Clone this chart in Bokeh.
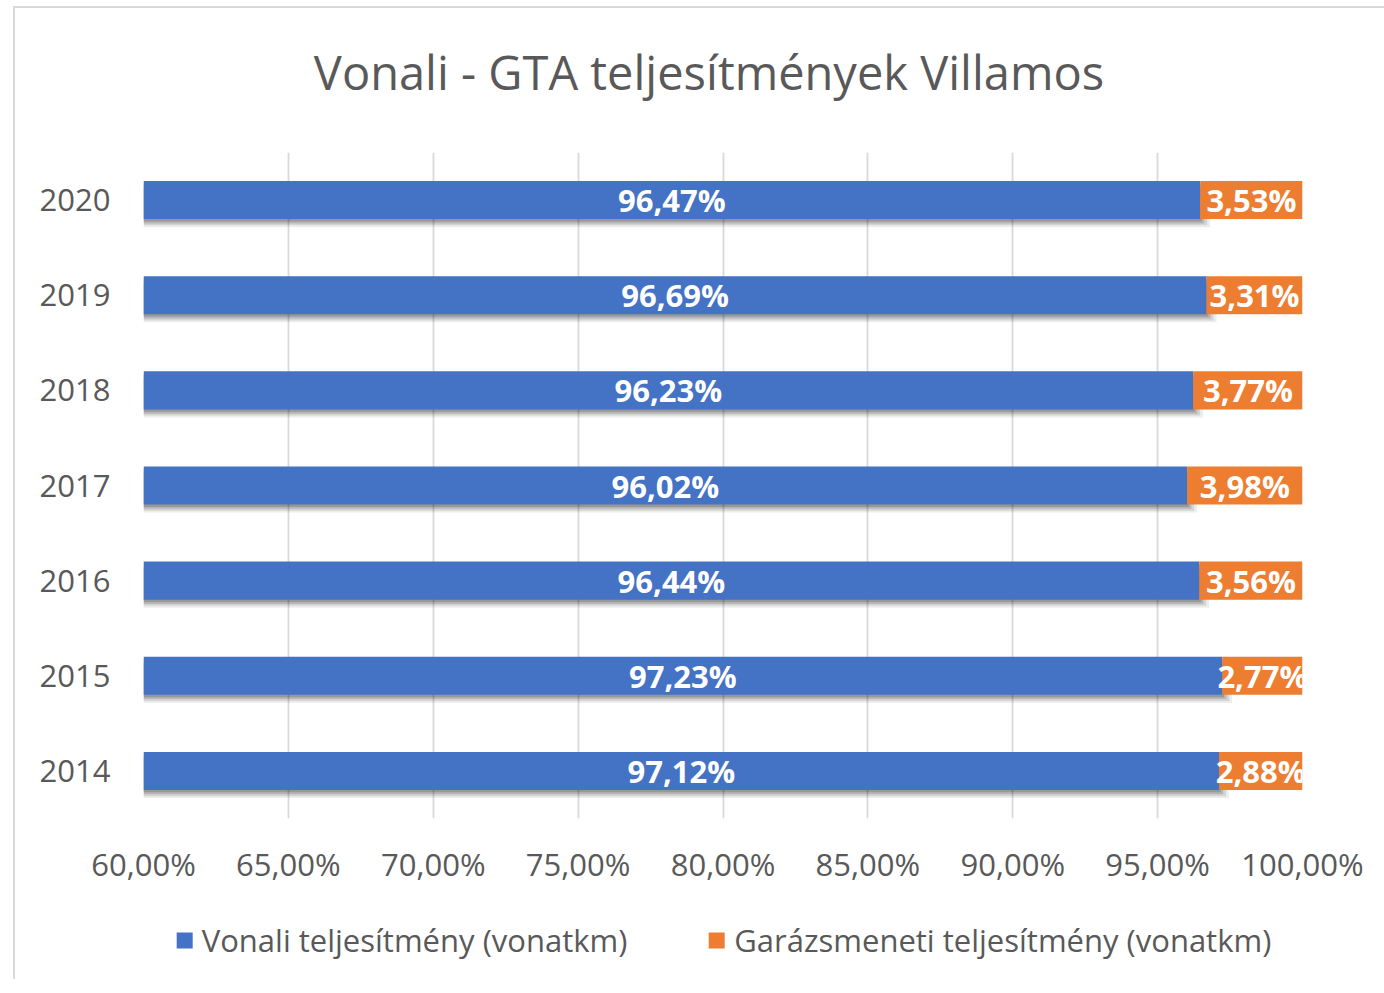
from bokeh.plotting import figure
from bokeh.layouts import column
from bokeh.models import (ColumnDataSource, FactorRange, Range1d, FixedTicker,
                          Legend, LegendItem, Div)
from bokeh.transform import dodge
from bokeh.core.properties import value
from bokeh.embed import file_html
from bokeh.resources import INLINE

# ---- data ----
years = ["2014", "2015", "2016", "2017", "2018", "2019", "2020"]
vonali = [97.12, 97.23, 96.44, 96.02, 96.23, 96.69, 96.47]
garazs = [2.88, 2.77, 3.56, 3.98, 3.77, 3.31, 3.53]
x_ticks = [60, 65, 70, 75, 80, 85, 90, 95, 100]
x_tick_labels = ["60,00%", "65,00%", "70,00%", "75,00%", "80,00%", "85,00%",
                 "90,00%", "95,00%", "100,00%"]
series_names = ["Vonali teljesítmény (vonatkm)", "Garázsmeneti teljesítmény (vonatkm)"]
title_text = "Vonali - GTA teljesítmények Villamos"

BLUE = "#4472C4"
ORANGE = "#ED7D31"
GRAY = "#595959"
FONT = "Open Sans"
x0 = x_ticks[0]

def fmt(v):
    return f"{v:.2f}".replace(".", ",") + "%"

src = ColumnDataSource(dict(
    year=years,
    start=[x0] * len(years),
    vonali=vonali,
    end=[v + g for v, g in zip(vonali, garazs)],
    vmid=[(x0 + v) / 2 for v in vonali],
    gmid=[v + g / 2 for v, g in zip(vonali, garazs)],
    vlab=[fmt(v) for v in vonali],
    glab=[fmt(g) for g in garazs],
))

# title strip
title = Div(text=title_text, width=1368, height=118,
            styles={"font-family": "'Open Sans'", "font-size": "47px", "color": GRAY,
                    "text-align": "center", "line-height": "118px", "text-indent": "10px",
                    "white-space": "nowrap"})

p = figure(width=1368, height=764, y_range=FactorRange(*years, range_padding=0),
           x_range=Range1d(x_ticks[0], x_ticks[-1]),
           output_backend="svg", toolbar_location=None,
           min_border_left=128, min_border_right=81, min_border_top=16, min_border_bottom=82)
p.outline_line_color = None
p.background_fill_color = "white"
p.border_fill_color = "white"

# grid
p.xaxis.ticker = FixedTicker(ticks=x_ticks)
p.xgrid.grid_line_color = "#D9D9D9"
p.xgrid.grid_line_width = 1.8
p.ygrid.grid_line_color = None

# shadow layers under the blue bars
for dy, dx, a in [(-0.085, 0.34, 0.07), (-0.065, 0.24, 0.10), (-0.045, 0.14, 0.14),
                  (-0.025, 0.06, 0.16)]:
    p.hbar(y=dodge("year", dy, range=p.y_range), left="start", right=dodge("vonali", dx),
           height=0.4, source=src, fill_color="black", fill_alpha=a, line_color=None)

p.hbar(y="year", left="start", right="vonali", height=0.4, source=src,
       fill_color=BLUE, line_color=None)
p.hbar(y="year", left="vonali", right="end", height=0.4, source=src,
       fill_color=ORANGE, line_color=None)

for xcol, tcol in (("vmid", "vlab"), ("gmid", "glab")):
    p.text(x=xcol, y="year", text=tcol, source=src, text_color="white",
           text_font=value(FONT), text_font_style="bold", text_font_size="31px",
           text_align="center", text_baseline="middle")

# axes
for ax in (p.xaxis, p.yaxis):
    ax.axis_line_color = None
    ax.major_tick_line_color = None
    ax.minor_tick_line_color = None
    ax.major_label_text_font = FONT
    ax.major_label_text_color = GRAY
    ax.major_label_text_font_size = "31px"
p.xaxis.major_label_overrides = {t: l for t, l in zip(x_ticks, x_tick_labels)}
p.xaxis.major_label_standoff = 18
p.yaxis.major_label_standoff = 27

# legend in its own strip below the chart (its bars have zero height: only the key shows)
lf = figure(width=1368, height=79, output_backend="svg", toolbar_location=None,
            x_axis_type=None, y_axis_type=None, min_border_left=15, min_border_right=0,
            min_border_top=0, min_border_bottom=0,
            x_range=Range1d(0, 1), y_range=FactorRange(*years))
lf.outline_line_color = None
lr1 = lf.hbar(y="year", left="start", right="vonali", height=0, source=src,
              fill_color=BLUE, line_color=None)
lr2 = lf.hbar(y="year", left="vonali", right="end", height=0, source=src,
              fill_color=ORANGE, line_color=None)
legend = Legend(items=[LegendItem(label=series_names[0], renderers=[lr1]),
                       LegendItem(label=series_names[1], renderers=[lr2])],
                orientation="horizontal", location="center")
legend.border_line_color = None
legend.background_fill_alpha = 0
legend.padding = 0
legend.margin = 0
legend.spacing = 79
legend.glyph_width = 20
legend.glyph_height = 20
legend.label_standoff = 8
legend.label_text_font = FONT
legend.label_text_font_size = "31px"
legend.label_text_color = GRAY
lf.add_layout(legend)

layout = column(title, p, lf, spacing=0,
                styles={"border-left": "2px solid #D9D9D9", "border-top": "2px solid #D9D9D9",
                        "margin-left": "13px", "margin-top": "6px"})

open("out.html", "w").write(file_html(layout, INLINE))
